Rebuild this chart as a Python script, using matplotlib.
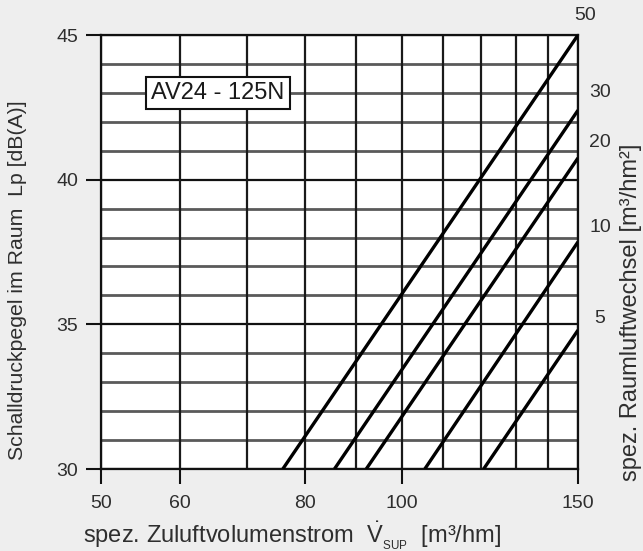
import matplotlib
matplotlib.use("Agg")
import matplotlib.pyplot as plt
import matplotlib.transforms as mtransforms

plt.rcParams['font.family'] = ['Liberation Sans', 'DejaVu Sans']
plt.rcParams['mathtext.fontset'] = 'custom'
plt.rcParams['mathtext.rm'] = 'Liberation Sans'
plt.rcParams['mathtext.it'] = 'Liberation Sans:italic'
plt.rcParams['mathtext.bf'] = 'Liberation Sans:bold'

# Air-change curves: start flow at 30 dB(A) and level reached at 150 m³/hm
air_change = [50, 30, 20, 10, 5]
flow_at_30db = [76.0, 85.6, 92.1, 105.4, 120.7]
level_at_150 = [45.0, 42.4, 40.75, 37.85, 34.8]
# vertical position of each air-change label on the right
air_label_level = [45.66, 43.0, 41.3, 38.36, 35.2]

x_ticks = [50, 60, 80, 100, 150]
x_grid = [50, 60, 70, 80, 90, 100, 110, 120, 130, 140, 150]
y_ticks = [30, 35, 40, 45]
y_grid = list(range(30, 46))

TXT = '#2e2e2e'
BG = '#eeeeee'

fig = plt.figure(figsize=(6.43, 5.51), dpi=100, facecolor=BG)
ax = fig.add_axes([101 / 643, 1 - 469 / 551, 477 / 643, 434 / 551])
ax.set_facecolor('white')
ax.set_xscale('log')
ax.set_xlim(50, 150)
ax.set_ylim(30, 45)

# grid
for y in y_grid:
    major = y in y_ticks
    ax.axhline(y, color='#111111' if major else '#5a5a5a',
               lw=1.6 if major else 2.0, zorder=1)
for x in x_grid:
    ax.axvline(x, color='#1a1a1a', lw=1.6, zorder=1)

# air-change lines
for v0, l1 in zip(flow_at_30db, level_at_150):
    ax.plot([v0, 150], [30, l1], color='black', lw=2.4,
            solid_capstyle='butt', zorder=3)

ax.set_xticks(x_ticks)
ax.set_xticklabels([str(v) for v in x_ticks])
ax.xaxis.set_minor_locator(matplotlib.ticker.NullLocator())
ax.set_yticks(y_ticks)
ax.set_yticklabels([str(v) for v in y_ticks])
ax.tick_params(axis='both', direction='out', length=10.5, width=1.5,
               color='#111111', labelsize=14, labelcolor=TXT)
ax.tick_params(axis='x', pad=8)
ax.tick_params(axis='y', pad=6)
for s in ax.spines.values():
    s.set_color('#111111')
    s.set_linewidth(1.6)

# air-change labels on the right
trans = mtransforms.blended_transform_factory(ax.transAxes, ax.transData)
for n, lv in zip(air_change, air_label_level):
    xpos = 1.015 if n == 50 else 1.046
    ax.text(xpos, lv, str(n), transform=trans, ha='center', va='center',
            fontsize=14, color=TXT, clip_on=False)

# type label
ax.text(0.245, 43.0, 'AV24 - 125N', transform=trans, ha='center', va='center',
        fontsize=17, color='#1a1a1a', zorder=5,
        bbox=dict(boxstyle='square,pad=0.22', fc='white', ec='#111111', lw=1.5))

fig.text(18 / 643, 1 - 280 / 551, 'Schalldruckpegel im Raum  Lp [dB(A)]',
         rotation=90, ha='center', va='center', fontsize=15.3, color=TXT)
fig.text(292 / 643, 1 - 536 / 551,
         r'spez. Zuluftvolumenstrom  $\dot{\mathrm{V}}_{{}_{\mathrm{SUP}}}$  [m³/hm]',
         ha='center', va='center', fontsize=17, color=TXT)
fig.text(631 / 643, 1 - 312 / 551, 'spez. Raumluftwechsel [m³/hm²]',
         rotation=90, ha='center', va='center', fontsize=17, color=TXT)

fig.savefig('out.png', dpi=100, facecolor=BG)
